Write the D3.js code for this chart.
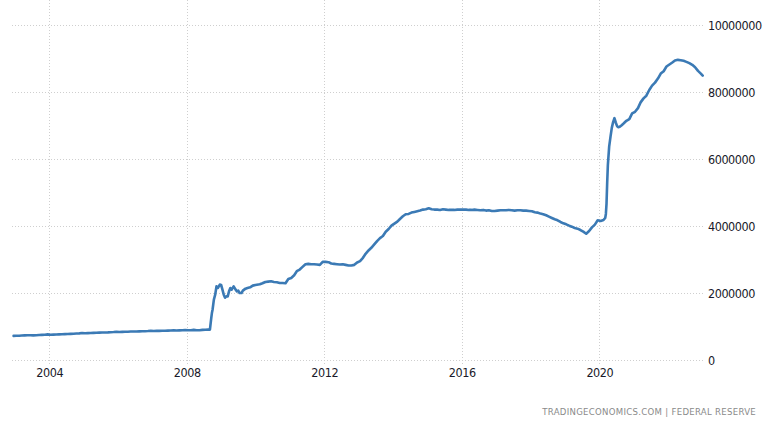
<!DOCTYPE html>
<html>
<head>
<meta charset="utf-8">
<script src="https://cdn.jsdelivr.net/npm/d3@7/dist/d3.min.js"></script>
<style>
  html, body { margin: 0; padding: 0; background: #fff; }
  svg { display: block; }
  .lbl { font-family: "DejaVu Sans Condensed", "Liberation Sans Narrow", sans-serif; font-size: 12.5px; letter-spacing: -0.45px; fill: #1a1a2a; }
  .src { font-family: "DejaVu Sans Condensed", sans-serif; font-size: 9.5px; fill: #8a8a8a; letter-spacing: 0.3px; }
</style>
</head>
<body>
<svg id="chart" width="768" height="432"></svg>
<script>
// Dates (YYYY-MM-DD) and Fed balance sheet values (USD millions)
const dates = [
  "2002-12-18",
  "2003-01-15","2003-02-15","2003-03-15","2003-04-15","2003-05-15","2003-06-15","2003-07-15","2003-08-15","2003-09-15","2003-10-15","2003-11-15","2003-12-15",
  "2004-01-15","2004-02-15","2004-03-15","2004-04-15","2004-05-15","2004-06-15","2004-07-15","2004-08-15","2004-09-15","2004-10-15","2004-11-15","2004-12-15",
  "2005-01-15","2005-02-15","2005-03-15","2005-04-15","2005-05-15","2005-06-15","2005-07-15","2005-08-15","2005-09-15","2005-10-15","2005-11-15","2005-12-15",
  "2006-01-15","2006-02-15","2006-03-15","2006-04-15","2006-05-15","2006-06-15","2006-07-15","2006-08-15","2006-09-15","2006-10-15","2006-11-15","2006-12-15",
  "2007-01-15","2007-02-15","2007-03-15","2007-04-15","2007-05-15","2007-06-15","2007-07-15","2007-08-15","2007-09-15","2007-10-15","2007-11-15","2007-12-15",
  "2008-01-15","2008-02-15","2008-03-15","2008-04-15","2008-05-15","2008-06-15","2008-07-15","2008-08-15","2008-09-03","2008-09-17","2008-09-24","2008-10-01","2008-10-15","2008-10-29","2008-11-12","2008-11-26","2008-12-17","2008-12-31",
  "2009-01-14","2009-01-28","2009-02-11","2009-02-25","2009-03-11","2009-03-25","2009-04-08","2009-04-22","2009-05-13","2009-06-03","2009-06-17","2009-07-01","2009-07-15","2009-08-05","2009-08-19","2009-09-02","2009-09-16","2009-10-07","2009-11-04","2009-12-02","2009-12-30",
  "2010-02-15","2010-03-15","2010-04-15","2010-05-15","2010-06-15","2010-07-15","2010-08-15","2010-09-15","2010-10-15","2010-11-15","2010-12-15",
  "2011-01-15","2011-02-15","2011-03-15","2011-04-15","2011-05-15","2011-06-15","2011-07-15","2011-08-15","2011-09-15","2011-10-15","2011-11-15","2011-12-15",
  "2012-01-15","2012-02-15","2012-03-15","2012-04-15","2012-05-15","2012-06-15","2012-07-15","2012-08-15","2012-09-15","2012-10-15","2012-11-15","2012-12-15",
  "2013-01-15","2013-02-15","2013-03-15","2013-04-15","2013-05-15","2013-06-15","2013-07-15","2013-08-15","2013-09-15","2013-10-15","2013-11-15","2013-12-15",
  "2014-01-15","2014-02-15","2014-03-15","2014-04-15","2014-05-15","2014-06-15","2014-07-15","2014-08-15","2014-09-15","2014-10-15","2014-11-15","2014-12-15",
  "2015-01-15","2015-02-15","2015-03-15","2015-04-15","2015-05-15","2015-06-15","2015-07-15","2015-08-15","2015-09-15","2015-10-15","2015-11-15","2015-12-15",
  "2016-01-15","2016-02-15","2016-03-15","2016-04-15","2016-05-15","2016-06-15","2016-07-15","2016-08-15","2016-09-15","2016-10-15","2016-11-15","2016-12-15",
  "2017-01-15","2017-02-15","2017-03-15","2017-04-15","2017-05-15","2017-06-15","2017-07-15","2017-08-15","2017-09-15","2017-10-15","2017-11-15","2017-12-15",
  "2018-01-15","2018-02-15","2018-03-15","2018-04-15","2018-05-15","2018-06-15","2018-07-15","2018-08-15","2018-09-15","2018-10-15","2018-11-15","2018-12-15",
  "2019-01-15","2019-02-15","2019-03-15","2019-04-15","2019-05-15","2019-06-15","2019-07-15","2019-08-15","2019-09-15","2019-10-15","2019-11-15","2019-12-15",
  "2020-01-15","2020-02-15","2020-03-04","2020-03-11","2020-03-18","2020-03-25","2020-04-01","2020-04-15","2020-04-29","2020-05-13","2020-05-27","2020-06-10","2020-06-24","2020-07-08","2020-07-22","2020-08-05","2020-08-26","2020-09-15","2020-10-15","2020-11-15","2020-12-15",
  "2021-01-15","2021-02-15","2021-03-15","2021-04-15","2021-05-15","2021-06-15","2021-07-15","2021-08-15","2021-09-15","2021-10-15","2021-11-15","2021-12-15",
  "2022-01-15","2022-02-15","2022-03-15","2022-04-15","2022-05-15","2022-06-15","2022-07-15","2022-08-15","2022-09-15","2022-10-15","2022-11-15","2022-12-15",
  "2023-01-04"
];
const values = [
  720000,
  722000,725000,730000,735000,738000,740000,735000,740000,745000,750000,755000,765000,
  755000,758000,760000,765000,770000,772000,775000,780000,785000,790000,795000,805000,
  800000,802000,805000,810000,815000,818000,820000,822000,825000,830000,835000,845000,
  838000,840000,842000,845000,850000,852000,852000,855000,858000,860000,865000,875000,
  865000,868000,870000,872000,875000,878000,880000,885000,880000,885000,890000,895000,
  890000,888000,900000,890000,890000,900000,905000,908000,905000,1250000,1400000,1500000,1800000,1950000,2200000,2150000,2250000,2240000,
  2100000,1950000,1860000,1900000,1900000,2050000,2150000,2100000,2200000,2100000,2050000,2070000,2000000,2000000,2070000,2100000,2130000,2150000,2170000,2220000,2240000,
  2260000,2290000,2330000,2340000,2350000,2330000,2320000,2300000,2300000,2290000,2420000,
  2450000,2530000,2650000,2700000,2780000,2860000,2870000,2860000,2860000,2850000,2840000,2930000,
  2930000,2920000,2880000,2870000,2860000,2850000,2860000,2840000,2820000,2820000,2840000,2910000,
  2950000,3050000,3170000,3270000,3350000,3450000,3550000,3640000,3700000,3830000,3910000,4010000,
  4070000,4130000,4210000,4290000,4350000,4360000,4400000,4420000,4440000,4460000,4490000,4500000,
  4530000,4500000,4490000,4490000,4480000,4500000,4490000,4480000,4480000,4480000,4490000,4490000,
  4490000,4490000,4480000,4480000,4490000,4480000,4470000,4480000,4460000,4470000,4450000,4450000,
  4460000,4470000,4470000,4470000,4480000,4470000,4460000,4470000,4470000,4460000,4460000,4450000,
  4440000,4410000,4400000,4370000,4350000,4320000,4280000,4240000,4200000,4170000,4120000,4080000,
  4050000,4010000,3980000,3940000,3920000,3880000,3830000,3770000,3850000,3960000,4040000,4170000,
  4150000,4180000,4240000,4360000,4670000,5300000,5810000,6370000,6660000,6930000,7100000,7220000,7090000,6980000,6950000,6960000,7010000,7060000,7140000,7190000,7360000,
  7410000,7520000,7690000,7810000,7890000,8060000,8190000,8280000,8400000,8550000,8620000,8760000,
  8820000,8880000,8940000,8960000,8950000,8930000,8900000,8860000,8810000,8740000,8630000,8550000,
  8490000
];
const yTicks = [0, 2000000, 4000000, 6000000, 8000000, 10000000];
const xTickYears = [2004, 2008, 2012, 2016, 2020];
const sourceText = "TRADINGECONOMICS.COM  |  FEDERAL RESERVE";

const parse = d3.timeParse("%Y-%m-%d");
const data = dates.map((d, i) => ({ date: parse(d), value: values[i] }));

const svg = d3.select("#chart");
const plotLeft = 12, plotRight = 703, plotTop = 25, plotBottom = 360;

const x = d3.scaleTime()
  .domain([new Date(2002, 11, 1), new Date(2023, 0, 7)])
  .range([plotLeft, plotRight]);
const y = d3.scaleLinear()
  .domain([0, 10000000])
  .range([plotBottom, plotTop]);

// Horizontal grid
svg.append("g").selectAll("line").data(yTicks).join("line")
  .attr("x1", plotLeft).attr("x2", plotRight + 2)
  .attr("y1", d => Math.round(y(d)) + 0.5).attr("y2", d => Math.round(y(d)) + 0.5)
  .attr("stroke", "#cfcfcf").attr("stroke-width", 1).attr("stroke-dasharray", "1,2");

// Vertical grid
const xTickDates = xTickYears.map(yr => new Date(yr, 0, 1));
svg.append("g").selectAll("line").data(xTickDates).join("line")
  .attr("x1", d => Math.round(x(d)) + 0.5).attr("x2", d => Math.round(x(d)) + 0.5)
  .attr("y1", 0).attr("y2", plotBottom + 4)
  .attr("stroke", "#cfcfcf").attr("stroke-width", 1).attr("stroke-dasharray", "1,2");

// Y axis labels (right)
const yAxis = d3.axisRight(y).tickValues(yTicks).tickSize(0).tickPadding(0)
  .tickFormat(d3.format("d"));
const gy = svg.append("g").attr("transform", `translate(${plotRight + 5},0)`).call(yAxis);
gy.select(".domain").remove();
gy.selectAll("text").attr("class", "lbl").attr("fill", null);
gy.attr("font-size", null).attr("font-family", null);

// X axis labels
const xAxis = d3.axisBottom(x).tickValues(xTickDates).tickSize(0).tickPadding(0)
  .tickFormat(d3.timeFormat("%Y"));
const gx = svg.append("g").attr("transform", `translate(0,${plotBottom + 8})`).call(xAxis);
gx.select(".domain").remove();
gx.selectAll("text").attr("class", "lbl").attr("fill", null);
gx.attr("font-size", null).attr("font-family", null);

// Line
const line = d3.line().x(d => x(d.date)).y(d => y(d.value)).curve(d3.curveLinear);
svg.append("path").datum(data)
  .attr("d", line)
  .attr("fill", "none")
  .attr("stroke", "#3b7ab5")
  .attr("stroke-width", 2.6)
  .attr("stroke-linejoin", "round")
  .attr("stroke-linecap", "round");

// Source
svg.append("text").attr("class", "src")
  .attr("x", 756).attr("y", 415).attr("text-anchor", "end")
  .text(sourceText);
</script>
</body>
</html>
